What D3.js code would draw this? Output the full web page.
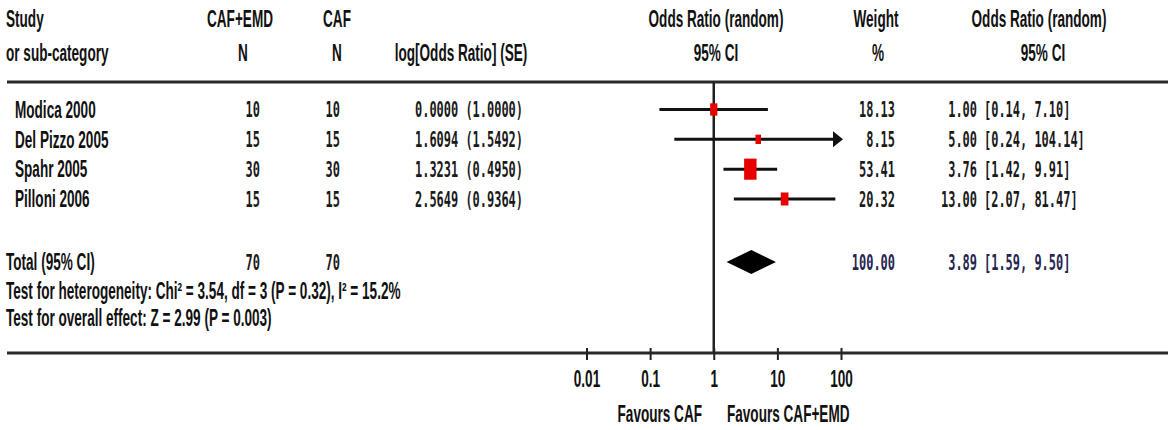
<!DOCTYPE html>
<html>
<head>
<meta charset="utf-8">
<script src="https://cdn.jsdelivr.net/npm/d3@7"></script>
<style>
  body { margin: 0; background: #fff; }
  .sans { font-family: "Liberation Sans", Arial, sans-serif; font-weight: bold; font-size: 23px; fill: #111; }
  .mono { font-family: "DejaVu Sans Mono", monospace; font-weight: bold; font-size: 21px; fill: #1a1a1a; }
  .navy { fill: #25254f; }
</style>
</head>
<body>
<div id="chart"></div>
<script>
// study rows
const studies = ["Modica 2000", "Del Pizzo 2005", "Spahr 2005", "Pilloni 2006"];
const nTreat = [10, 15, 30, 15];
const nCtrl = [10, 15, 30, 15];
const logOR = [0.0000, 1.6094, 1.3231, 2.5649];
const logSE = [1.0000, 1.5492, 0.4950, 0.9364];
const weights = [18.13, 8.15, 53.41, 20.32];
const oddsRatio = [1.00, 5.00, 3.76, 13.00];
const ciLow = [0.14, 0.24, 1.42, 2.07];
const ciHigh = [7.10, 104.14, 9.91, 81.47];

// pooled
const totalTreat = 70, totalCtrl = 70;
const totalWeight = 100.00;
const totalOR = 3.89, totalLow = 1.59, totalHigh = 9.50;

const tickValues = [0.01, 0.1, 1, 10, 100];
const tickLabels = ["0.01", "0.1", "1", "10", "100"];

const W = 1175, H = 430;
const sx = 0.59;      // condensed look of the sans text
const mx = 0.57;      // condensed mono
const svg = d3.select('#chart').append('svg')
    .attr('width', W)
    .attr('height', H);

function label(x, y, s, anchor, cls) {
  return svg.append('text')
    .attr('class', cls || 'sans')
    .attr('transform', 'translate(' + x + ',' + y + ') scale(' + (cls && cls.indexOf('mono') >= 0 ? mx : sx) + ',1)')
    .attr('text-anchor', anchor || 'start')
    .attr('dy', '0.36em')
    .text(s);
}

let x = d3.scaleLog().domain([0.01, 100]).range([586.5, 841]);
let y = d3.scaleLinear().domain([0, studies.length - 1]).range([109.5, 199]);
const yTotal = 262, yHet = 291, yEff = 318;
const yTop = 82, yAxis = 353;

// headers
label(6, 19, 'Study');
label(6, 53, 'or sub-category');
label(240, 19, 'CAF+EMD', 'middle');
label(243, 53, 'N', 'middle');
label(337, 19, 'CAF', 'middle');
label(337, 53, 'N', 'middle');
label(461, 53, 'log[Odds Ratio] (SE)', 'middle');
label(716, 19, 'Odds Ratio (random)', 'middle');
label(716, 53, '95% CI', 'middle');
label(876, 19, 'Weight', 'middle');
label(878, 53, '%', 'middle');
label(1039, 19, 'Odds Ratio (random)', 'middle');
label(1043, 53, '95% CI', 'middle');

// rules
svg.append('line').attr('x1', 7).attr('x2', 1168).attr('y1', yTop).attr('y2', yTop)
  .attr('stroke', '#2a2a2a').attr('stroke-width', 3);
svg.append('line').attr('x1', 7).attr('x2', 1168).attr('y1', yAxis).attr('y2', yAxis)
  .attr('stroke', '#2a2a2a').attr('stroke-width', 3);

// line of no effect
svg.append('line').attr('x1', x(1)).attr('x2', x(1)).attr('y1', yTop).attr('y2', yAxis)
  .attr('stroke', '#222').attr('stroke-width', 2.5);

// study text columns
studies.forEach(function(s, i) {
  let yy = y(i);
  label(15, yy, s);
  label(260, yy, nTreat[i], 'end', 'mono');
  label(340, yy, nCtrl[i], 'end', 'mono');
  label(415, yy, logOR[i].toFixed(4) + ' (' + logSE[i].toFixed(4) + ')', 'start', 'mono');
  label(895, yy, weights[i].toFixed(2), 'end', 'mono');
  label(977, yy, oddsRatio[i].toFixed(2), 'end', 'mono');
  label(984, yy, '[' + ciLow[i].toFixed(2) + ', ' + ciHigh[i].toFixed(2) + ']', 'start', 'mono');
});

// confidence intervals
const xMax = x.domain()[1];
svg.selectAll('.ci')
  .data(studies)
  .enter()
  .append('line')
  .attr('class', 'ci')
  .attr('x1', (d, i) => x(Math.max(ciLow[i], 0.01)))
  .attr('x2', (d, i) => ciHigh[i] > xMax ? x(xMax) - 8 : x(ciHigh[i]))
  .attr('y1', (d, i) => y(i))
  .attr('y2', (d, i) => y(i))
  .attr('stroke', '#111')
  .attr('stroke-width', 3);

// arrows for intervals past the axis
studies.forEach(function(d, i) {
  if (ciHigh[i] > xMax) {
    let tip = x(xMax) + 2, yy = y(i);
    svg.append('path')
      .attr('d', 'M' + (tip - 10) + ',' + (yy - 8) + 'L' + tip + ',' + yy + 'L' + (tip - 10) + ',' + (yy + 8) + 'Z')
      .attr('fill', '#111');
  }
});

// weight boxes (image is stretched vertically, so boxes are taller than wide)
let bw = d => Math.max(1.7 * Math.sqrt(d), 5.5);
svg.selectAll('.box')
  .data(studies)
  .enter()
  .append('rect')
  .attr('class', 'box')
  .attr('x', (d, i) => x(oddsRatio[i]) - bw(weights[i]) / 2)
  .attr('y', (d, i) => y(i) - bw(weights[i]) * 0.85)
  .attr('width', (d, i) => bw(weights[i]))
  .attr('height', (d, i) => bw(weights[i]) * 1.7)
  .attr('fill', '#e80000');

// pooled diamond
svg.append('path')
  .attr('d', 'M' + x(totalLow) + ',' + yTotal + 'L' + x(totalOR) + ',' + (yTotal - 12) +
             'L' + x(totalHigh) + ',' + yTotal + 'L' + x(totalOR) + ',' + (yTotal + 12) + 'Z')
  .attr('fill', '#000');

// total rows
label(6, yTotal, 'Total (95% CI)');
label(260, yTotal, totalTreat, 'end', 'mono');
label(340, yTotal, totalCtrl, 'end', 'mono');
label(895, yTotal, totalWeight.toFixed(2), 'end', 'mono navy');
label(977, yTotal, totalOR.toFixed(2), 'end', 'mono navy');
label(984, yTotal, '[' + totalLow.toFixed(2) + ', ' + totalHigh.toFixed(2) + ']', 'start', 'mono navy');
label(6, yHet, 'Test for heterogeneity: Chi\u00b2 = 3.54, df = 3 (P = 0.32), I\u00b2 = 15.2%');
label(6, yEff, 'Test for overall effect: Z = 2.99 (P = 0.003)');

// axis
let axis = d3.axisBottom(x)
  .tickValues(tickValues)
  .tickFormat((d, i) => tickLabels[i])
  .tickSize(7)
  .tickPadding(12);
let ag = svg.append('g').attr('transform', 'translate(0,' + yAxis + ')').call(axis);
ag.select('.domain').remove();
ag.selectAll('.tick line').attr('y1', -5).attr('stroke', '#222').attr('stroke-width', 2);
ag.selectAll('.tick text')
  .attr('class', 'sans')
  .attr('y', 26).attr('dy', '0.36em')
  .attr('transform', 'scale(' + sx + ',1)')
  .attr('fill', '#111');

label(702, 414, 'Favours CAF', 'end');
label(727, 414, 'Favours CAF+EMD', 'start');
</script>
</body>
</html>
